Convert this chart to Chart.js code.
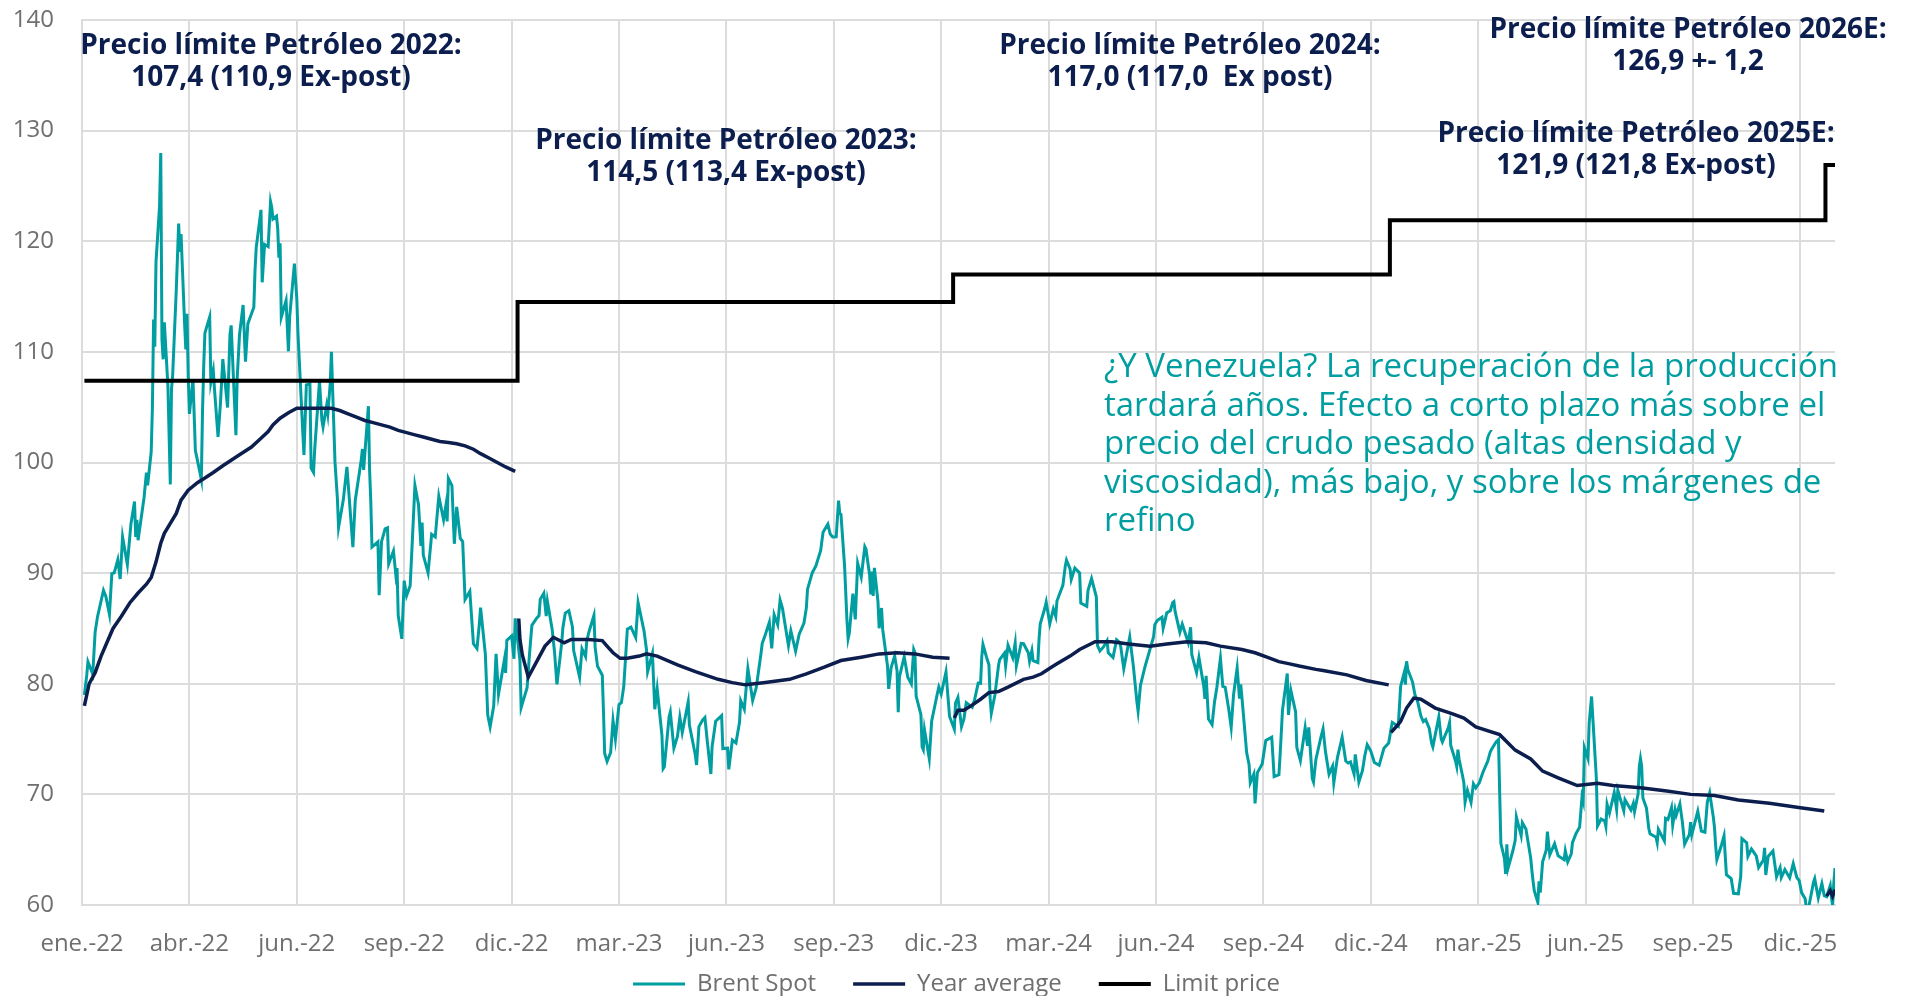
<!DOCTYPE html>
<html>
<head>
<meta charset="utf-8">
<title>Brent y precio límite</title>
<script src="https://cdn.jsdelivr.net/npm/chart.js@4.4.1/dist/chart.umd.min.js"></script>
<style>
  html, body { margin: 0; padding: 0; background: #fff; }
</style>
</head>
<body>
<canvas id="graph" width="1913" height="996"></canvas>
<script>
// Brent front month, USD/bbl: one row per month, [day, value]
const brentSpot = [
  ['2022-01', [3, 78.98], [5, 80.8], [6, 81.99], [10, 80.87], [12, 84.67], [14, 86.06], [19, 88.44], [21, 87.89], [24, 86.27], [26, 89.96], [28, 90.03], [31, 91.21]],
  ['2022-02', [2, 89.47], [4, 93.27], [8, 90.78], [11, 94.44], [14, 96.48], [15, 93.28], [16, 94.81], [17, 92.97], [22, 96.84], [24, 99.08], [25, 97.93], [28, 100.99]],
  ['2022-03', [1, 104.97], [2, 112.93], [3, 110.46], [4, 118.11], [7, 123.21], [8, 127.98], [9, 111.14], [10, 109.33], [11, 112.67], [14, 106.9], [16, 98.02], [17, 106.64], [18, 107.93], [21, 115.62], [23, 121.6], [24, 119.03], [25, 120.65], [28, 112.48], [29, 110.23], [30, 113.45], [31, 107.91]],
  ['2022-04', [1, 104.39], [4, 107.53], [6, 101.07], [7, 100.58], [11, 98.48], [12, 104.64], [13, 108.78], [14, 111.7], [18, 113.16], [19, 107.25], [21, 108.33], [22, 106.65], [25, 102.32], [27, 105.32], [29, 109.34]],
  ['2022-05', [3, 104.97], [5, 111.55], [6, 112.39], [10, 102.46], [11, 107.51], [13, 111.55], [16, 114.24], [18, 109.11], [20, 112.55], [25, 114.03], [26, 117.4], [27, 119.43], [31, 122.84]],
  ['2022-06', [1, 116.29], [3, 119.72], [6, 119.51], [8, 123.58], [9, 123.07], [10, 122.01], [13, 122.27], [14, 121.17], [15, 118.51], [16, 119.81], [17, 113.12], [21, 114.65], [23, 110.05], [24, 113.12], [28, 117.98], [30, 114.81]],
  ['2022-07', [1, 111.63], [5, 102.77], [6, 100.69], [8, 107.02], [11, 107.1], [12, 99.49], [14, 99.1], [15, 101.16], [19, 107.35], [21, 103.86], [22, 103.2], [25, 105.15], [26, 104.4], [28, 107.14], [29, 110.01]],
  ['2022-08', [1, 100.03], [3, 96.78], [4, 94.12], [8, 96.65], [11, 99.6], [12, 98.15], [16, 92.34], [18, 96.59], [23, 100.22], [24, 101.22], [25, 99.34], [29, 105.09], [30, 99.31], [31, 96.49]],
  ['2022-09', [1, 92.36], [6, 92.83], [7, 88.0], [9, 92.84], [12, 94.0], [14, 94.1], [15, 90.84], [19, 92.0], [21, 89.83], [22, 90.46], [23, 86.15], [26, 84.06], [28, 89.32], [30, 87.96]],
  ['2022-10', [3, 88.86], [5, 93.37], [7, 97.92], [10, 96.19], [12, 92.45], [13, 94.57], [14, 91.63], [18, 90.03], [21, 93.5], [24, 93.26], [27, 96.96], [31, 94.83]],
  ['2022-11', [2, 96.16], [3, 94.67], [4, 98.57], [7, 97.92], [9, 92.65], [11, 95.99], [14, 93.14], [16, 92.86], [18, 87.62], [22, 88.36], [25, 83.63], [28, 83.19], [30, 85.43]],
  ['2022-12', [1, 86.88], [5, 82.68], [7, 77.17], [9, 76.1], [12, 77.99], [14, 82.7], [16, 79.04], [21, 82.2], [22, 80.98], [23, 83.92], [27, 84.33], [29, 82.26], [30, 85.91]],
  ['2023-01', [3, 82.1], [4, 77.84], [6, 78.57], [9, 79.65], [11, 82.67], [13, 85.28], [17, 85.92], [19, 86.16], [20, 87.63], [23, 88.19], [25, 86.12], [26, 87.47], [30, 84.9]],
  ['2023-02', [1, 82.84], [3, 79.94], [7, 83.69], [8, 85.09], [10, 86.39], [13, 86.61], [16, 85.14], [17, 83.0], [22, 80.6], [24, 83.16], [27, 82.45], [28, 83.89]],
  ['2023-03', [2, 84.75], [6, 86.18], [7, 83.29], [9, 81.59], [13, 80.77], [14, 77.45], [15, 73.69], [17, 72.97], [20, 73.79], [22, 76.69], [24, 74.99], [27, 78.12], [29, 78.28], [31, 79.77]],
  ['2023-04', [3, 84.93], [6, 85.12], [10, 84.18], [12, 87.33], [14, 86.31], [17, 84.76], [19, 83.12], [20, 81.1], [24, 82.73], [26, 77.69], [28, 79.54]],
  ['2023-05', [2, 75.32], [3, 72.33], [4, 72.5], [8, 77.01], [9, 77.44], [12, 74.17], [15, 75.23], [17, 76.96], [19, 75.58], [24, 78.36], [25, 76.26], [30, 73.54], [31, 72.66]],
  ['2023-06', [2, 76.13], [5, 76.71], [7, 76.95], [9, 74.79], [12, 71.84], [13, 74.29], [16, 76.61], [21, 77.12], [22, 74.14], [26, 74.18], [27, 72.26], [30, 74.9]],
  ['2023-07', [3, 74.65], [6, 76.52], [7, 78.47], [10, 77.69], [13, 81.36], [17, 78.5], [20, 79.64], [24, 82.74], [25, 83.64], [27, 84.24], [31, 85.56]],
  ['2023-08', [2, 83.2], [4, 86.24], [7, 85.34], [9, 87.55], [11, 86.81], [16, 83.45], [18, 84.8], [22, 82.96], [25, 84.48], [29, 85.49], [31, 86.86]],
  ['2023-09', [1, 88.55], [5, 90.04], [8, 90.65], [12, 92.06], [14, 93.7], [18, 94.43], [20, 93.53], [22, 93.27], [25, 93.29], [27, 96.55], [28, 95.38], [29, 95.31]],
  ['2023-10', [2, 90.71], [4, 85.81], [5, 84.07], [6, 84.58], [9, 88.15], [11, 85.82], [13, 90.89], [16, 89.65], [19, 92.38], [20, 92.16], [23, 89.83], [24, 88.07], [25, 90.13], [26, 87.93], [27, 90.48], [30, 87.45], [31, 85.02]],
  ['2023-11', [2, 86.85], [3, 84.89], [7, 81.61], [8, 79.54], [10, 81.43], [13, 82.52], [15, 81.18], [16, 77.42], [17, 80.61], [21, 82.45], [24, 80.58], [27, 79.98], [29, 83.1], [30, 82.83]],
  ['2023-12', [1, 78.88], [5, 77.2], [6, 74.3], [7, 74.05], [8, 75.84], [12, 73.24], [14, 76.61], [19, 79.23], [20, 79.7], [22, 79.07], [26, 81.07], [28, 78.39], [29, 77.04]],
  ['2024-01', [2, 75.89], [3, 78.25], [5, 78.76], [8, 76.12], [10, 76.8], [12, 78.29], [17, 77.88], [19, 78.56], [22, 80.06], [24, 80.04], [25, 82.43], [26, 83.55], [29, 82.4], [31, 81.71]],
  ['2024-02', [1, 78.7], [2, 77.33], [5, 78.99], [8, 81.63], [9, 82.19], [13, 82.77], [14, 81.6], [16, 83.47], [20, 82.34], [22, 83.67], [23, 81.62], [27, 83.65], [29, 83.62]],
  ['2024-03', [4, 82.8], [5, 82.04], [7, 83.0], [8, 82.08], [12, 81.92], [13, 84.03], [14, 85.42], [18, 86.89], [19, 87.38], [22, 85.43], [25, 86.75], [27, 86.09], [28, 87.48]],
  ['2024-04', [2, 88.92], [4, 90.65], [5, 91.17], [8, 90.38], [9, 89.42], [12, 90.45], [16, 90.02], [17, 87.29], [22, 87.0], [23, 88.42], [26, 89.5], [30, 87.86]],
  ['2024-05', [1, 83.44], [3, 82.96], [6, 83.33], [9, 83.88], [10, 82.79], [14, 82.38], [17, 83.98], [20, 83.71], [23, 81.36], [28, 84.22], [31, 81.62]],
  ['2024-06', [3, 78.36], [4, 77.52], [6, 79.87], [10, 81.63], [13, 82.75], [17, 84.25], [18, 85.33], [20, 85.71], [24, 86.01], [25, 85.01], [28, 86.41]],
  ['2024-07', [1, 86.6], [3, 87.34], [4, 87.43], [5, 86.54], [9, 84.66], [11, 85.4], [16, 83.73], [18, 85.11], [19, 82.63], [23, 81.01], [25, 82.37], [29, 79.78], [30, 78.63], [31, 80.72]],
  ['2024-08', [2, 76.81], [5, 76.3], [7, 78.33], [9, 79.66], [12, 82.3], [14, 79.76], [16, 79.68], [19, 77.66], [21, 76.05], [23, 79.02], [26, 81.43], [28, 78.65], [29, 79.94], [30, 78.8]],
  ['2024-09', [3, 73.75], [5, 72.69], [6, 71.06], [9, 71.84], [10, 69.19], [12, 71.97], [16, 72.75], [19, 74.88], [24, 75.17], [26, 71.6], [30, 71.77]],
  ['2024-10', [1, 73.56], [3, 77.62], [7, 80.93], [8, 77.18], [10, 79.4], [14, 77.46], [15, 74.25], [18, 73.06], [22, 76.04], [24, 74.38], [25, 76.05], [28, 71.42], [29, 71.12], [31, 73.16]],
  ['2024-11', [4, 75.08], [6, 75.92], [8, 73.87], [11, 71.83], [14, 72.56], [15, 71.04], [18, 73.3], [22, 75.17], [25, 73.01], [27, 72.83], [29, 72.94]],
  ['2024-12', [2, 71.83], [3, 73.62], [6, 71.12], [9, 72.14], [11, 73.52], [13, 74.49], [16, 73.91], [19, 72.88], [23, 72.63], [27, 74.17], [31, 74.64]],
  ['2025-01', [2, 75.93], [3, 76.51], [6, 76.3], [8, 76.16], [10, 79.76], [13, 81.01], [14, 79.92], [15, 82.03], [16, 81.29], [20, 80.15], [22, 79.0], [24, 78.5], [27, 77.08], [29, 76.58], [31, 76.76]],
  ['2025-02', [3, 75.96], [5, 74.61], [6, 74.29], [11, 77.0], [13, 75.02], [14, 74.74], [19, 76.04], [20, 76.48], [21, 74.43], [25, 73.02], [26, 72.53], [27, 74.04], [28, 73.18]],
  ['2025-03', [3, 71.62], [4, 71.04], [5, 69.3], [7, 70.36], [10, 69.28], [12, 70.95], [14, 70.58], [17, 71.07], [20, 72.0], [24, 73.0], [26, 73.79], [27, 74.03], [31, 74.74]],
  ['2025-04', [2, 74.95], [3, 70.14], [4, 65.58], [7, 64.21], [8, 62.82], [9, 65.48], [10, 63.33], [14, 64.88], [16, 65.85], [17, 67.96], [21, 66.26], [22, 67.44], [25, 66.87], [29, 64.25], [30, 63.12]],
  ['2025-05', [1, 62.13], [2, 61.29], [5, 60.23], [6, 62.15], [7, 61.12], [9, 63.91], [12, 64.96], [13, 66.63], [15, 64.53], [19, 65.54], [22, 64.44], [27, 64.09], [28, 64.9], [30, 63.9]],
  ['2025-06', [2, 64.63], [3, 65.63], [6, 66.47], [9, 67.04], [11, 69.77], [12, 69.36], [13, 74.23], [16, 73.23], [17, 76.45], [19, 78.85], [20, 77.01], [23, 71.48], [24, 67.14], [27, 67.77], [30, 67.61]],
  ['2025-07', [1, 67.11], [2, 69.11], [4, 68.3], [8, 70.15], [10, 68.64], [11, 70.36], [16, 68.52], [17, 69.52], [22, 68.59], [24, 69.18], [25, 68.44], [28, 70.04], [29, 72.51], [30, 73.24], [31, 72.53]],
  ['2025-08', [1, 69.67], [4, 68.76], [6, 66.89], [7, 66.43], [12, 66.12], [13, 65.63], [14, 66.84], [19, 65.79], [20, 67.84], [22, 67.73], [25, 68.8], [26, 67.22], [28, 68.62], [29, 68.12]],
  ['2025-09', [1, 69.14], [3, 67.6], [5, 65.5], [9, 66.39], [10, 67.49], [11, 66.37], [16, 68.47], [19, 66.68], [22, 66.57], [24, 69.31], [26, 70.13], [29, 67.97], [30, 67.02]],
  ['2025-10', [1, 65.35], [2, 64.11], [6, 65.47], [8, 66.25], [10, 62.73], [14, 62.39], [16, 61.06], [20, 61.01], [22, 62.59], [23, 65.99], [27, 65.62], [28, 64.4], [31, 65.07]],
  ['2025-11', [4, 64.44], [6, 63.38], [10, 64.06], [11, 65.16], [12, 62.71], [14, 64.39], [18, 64.89], [21, 62.56], [24, 63.37], [25, 62.48], [28, 63.2]],
  ['2025-12', [2, 62.45], [5, 63.75], [8, 62.49], [10, 62.21], [12, 61.12], [15, 60.56], [16, 59.7], [18, 59.82], [22, 62.07], [23, 62.38], [26, 60.64], [29, 61.94], [31, 60.85]],
  ['2026-01', [2, 60.75], [5, 61.76], [6, 60.7], [7, 59.96], [8, 61.99], [9, 63.34]]
];

// year-to-date average, one list per year (the line breaks between years)
const yearAvg2022 = [
  ['2022-01', [3, 78.0], [7, 80.0], [12, 81.0], [17, 82.5], [21, 83.5], [27, 85.0]],
  ['2022-02', [3, 86.1], [10, 87.3], [17, 88.2], [24, 89.0], [28, 89.6]],
  ['2022-03', [4, 91.0], [8, 92.7], [11, 93.6], [16, 94.5], [21, 95.4], [25, 96.6], [31, 97.5]],
  ['2022-04', [8, 98.2], [14, 98.6], [21, 99.1], [29, 99.7]],
  ['2022-05', [6, 100.2], [13, 100.7], [23, 101.4], [31, 102.2]],
  ['2022-06', [6, 102.8], [10, 103.4], [16, 104.0], [23, 104.5], [30, 104.9]],
  ['2022-07', [8, 104.9], [15, 104.9], [22, 104.9], [29, 104.9]],
  ['2022-08', [5, 104.7], [12, 104.4], [19, 104.1], [26, 103.8]],
  ['2022-09', [2, 103.6], [9, 103.4], [16, 103.2], [23, 102.9], [30, 102.7]],
  ['2022-10', [7, 102.5], [14, 102.3], [21, 102.1], [28, 101.9]],
  ['2022-11', [4, 101.8], [11, 101.7], [18, 101.5], [25, 101.2]],
  ['2022-12', [1, 100.8], [8, 100.4], [15, 100.0], [22, 99.6], [30, 99.2]]
];
const yearAvg2023 = [
  ['2023-01', [2, 85.9], [3, 84.0], [5, 82.6], [10, 80.6], [13, 81.2], [17, 82.0], [24, 83.4], [31, 84.2]],
  ['2023-02', [9, 83.7], [15, 84.0], [22, 84.0]],
  ['2023-03', [1, 84.0], [13, 83.9], [17, 83.4], [22, 82.8], [28, 82.3]],
  ['2023-04', [3, 82.3], [13, 82.5], [19, 82.7], [28, 82.5]],
  ['2023-05', [15, 81.7], [30, 81.1]],
  ['2023-06', [18, 80.4], [30, 80.1]],
  ['2023-07', [11, 79.9], [26, 80.1]],
  ['2023-08', [17, 80.4], [31, 80.9]],
  ['2023-09', [15, 81.5], [29, 82.1]],
  ['2023-10', [16, 82.4], [31, 82.7]],
  ['2023-11', [15, 82.8], [30, 82.7]],
  ['2023-12', [15, 82.4], [29, 82.3]]
];
const yearAvg2024 = [
  ['2024-01', [2, 76.9], [5, 77.6], [10, 77.6], [16, 78.0], [24, 78.6], [31, 79.2]],
  ['2024-02', [8, 79.3], [16, 79.7], [29, 80.4]],
  ['2024-03', [8, 80.6], [15, 80.9], [22, 81.4], [28, 81.8]],
  ['2024-04', [8, 82.5], [16, 83.1], [29, 83.8]],
  ['2024-05', [13, 83.8], [27, 83.6]],
  ['2024-06', [14, 83.4], [28, 83.6]],
  ['2024-07', [15, 83.8], [31, 83.7]],
  ['2024-08', [12, 83.4], [30, 83.1]],
  ['2024-09', [10, 82.8], [20, 82.4], [30, 82.0]],
  ['2024-10', [9, 81.8], [17, 81.6], [31, 81.3]],
  ['2024-11', [6, 81.2], [26, 80.8]],
  ['2024-12', [12, 80.3], [31, 79.9]]
];
const yearAvg2025 = [
  ['2025-01', [2, 75.6], [7, 76.2], [10, 76.6], [15, 77.8], [21, 78.7], [27, 78.6]],
  ['2025-02', [8, 77.8], [22, 77.3]],
  ['2025-03', [4, 76.9], [14, 76.1]],
  ['2025-04', [3, 75.4], [16, 74.0], [29, 73.2]],
  ['2025-05', [9, 72.1], [22, 71.5]],
  ['2025-06', [7, 70.8], [24, 71.0]],
  ['2025-07', [7, 70.8], [30, 70.6]],
  ['2025-08', [21, 70.3]],
  ['2025-09', [10, 70.0], [30, 69.9]],
  ['2025-10', [20, 69.5]],
  ['2025-11', [15, 69.2]],
  ['2025-12', [11, 68.8], [31, 68.5]]
];
const yearAvg2026 = [
  ['2026-01', [2, 60.8], [5, 61.3], [7, 60.8], [9, 61.4]]
];

// limit price per year
const limitYears = [2022, 2023, 2024, 2025, 2026];
const limitValues = [107.4, 114.5, 117.0, 121.9, 126.9];

const xTickLabels = ['ene.-22', 'abr.-22', 'jun.-22', 'sep.-22', 'dic.-22', 'mar.-23', 'jun.-23', 'sep.-23', 'dic.-23',
  'mar.-24', 'jun.-24', 'sep.-24', 'dic.-24', 'mar.-25', 'jun.-25', 'sep.-25', 'dic.-25'];
const tickStepDays = 90;
const firstDate = '2022-01-01';
const lastDate = '2026-01-09';

const limitNotes = [
  ['Precio límite Petróleo 2022:', '107,4 (110,9 Ex-post)'],
  ['Precio límite Petróleo 2023:', '114,5 (113,4 Ex-post)'],
  ['Precio límite Petróleo 2024:', '117,0 (117,0  Ex post)'],
  ['Precio límite Petróleo 2026E:', '126,9 +- 1,2'],
  ['Precio límite Petróleo 2025E:', '121,9 (121,8 Ex-post)']
];
const venezuelaNote = [
  '¿Y Venezuela? La recuperación de la producción',
  'tardará años. Efecto a corto plazo más sobre el',
  'precio del crudo pesado (altas densidad y',
  'viscosidad), más bajo, y sobre los márgenes de',
  'refino'
];

// styling
const teal = '#009ea0';
const navy = '#0c1e4e';
const grey = '#6f6f6f';
const gridGrey = '#dcdcdc';
// where the note texts sit (pixels)
const notePos = [{x: 271, y: 46}, {x: 726, y: 141}, {x: 1190, y: 46}, {x: 1688, y: 30}, {x: 1636, y: 134}];
const venezuelaPos = {x: 1104, y: 368, lineGap: 38.4};

// helpers
function dayOf(s) {
  const ms = Date.UTC(+s.slice(0, 4), +s.slice(5, 7) - 1, +s.slice(8, 10));
  return (ms - Date.UTC(2022, 0, 1)) / 86400000;
}
function toPoints(rows) {
  const out = [];
  rows.forEach(row => {
    const month = row[0];
    row.slice(1).forEach(([d, v]) => {
      out.push({ x: dayOf(month + '-' + String(d).padStart(2, '0')), y: v });
    });
  });
  return out;
}

const yearAvgPoints = [];
[yearAvg2022, yearAvg2023, yearAvg2024, yearAvg2025, yearAvg2026].forEach((rows, i) => {
  const pts = toPoints(rows);
  if (i > 0) yearAvgPoints.push({ x: pts[0].x - 0.5, y: null }); // break between years
  yearAvgPoints.push(...pts);
});

const xMax = dayOf(lastDate);
const limitPoints = limitYears.map((yr, i) => ({ x: Math.max(dayOf(yr + '-01-01'), 2), y: limitValues[i] }));
limitPoints.push({ x: xMax, y: limitValues[limitValues.length - 1] });

const notesPlugin = {
  id: 'notes',
  afterDraw(chart) {
    const ctx = chart.ctx;
    ctx.save();
    ctx.textBaseline = 'middle';
    ctx.textAlign = 'center';
    ctx.fillStyle = navy;
    ctx.font = "bold 28px 'Open Sans'";
    limitNotes.forEach((lines, i) => {
      lines.forEach((t, j) => ctx.fillText(t, notePos[i].x, notePos[i].y + j * 32.5));
    });
    ctx.textAlign = 'left';
    ctx.fillStyle = teal;
    ctx.font = "33px 'Open Sans'";
    venezuelaNote.forEach((t, j) => ctx.fillText(t, venezuelaPos.x, venezuelaPos.y + j * venezuelaPos.lineGap));
    ctx.restore();
  }
};

Chart.defaults.font.family = "'Open Sans', sans-serif";
Chart.defaults.font.size = 24;
Chart.defaults.color = grey;

var ctx = document.getElementById('graph').getContext('2d');
var myChart = new Chart(ctx, {
  type: 'line',
  data: {
    datasets: [
      { label: 'Brent Spot', data: toPoints(brentSpot), yAxisID: 'y', borderColor: teal, backgroundColor: teal, borderWidth: 3, order: 3 },
      { label: 'Year average', data: yearAvgPoints, yAxisID: 'y', borderColor: navy, backgroundColor: navy, borderWidth: 3.5, order: 2 },
      { label: 'Limit price', data: limitPoints, yAxisID: 'y', borderColor: '#000', backgroundColor: '#000', borderWidth: 4, stepped: true, order: 1 }
    ]
  },
  options: {
    responsive: false,
    animation: false,
    devicePixelRatio: 1,
    elements: {
      point: { radius: 0 },
      line: { tension: 0 }
    },
    layout: { padding: { top: 20, right: 0, bottom: -10, left: 0 } },
    scales: {
      x: {
        type: 'linear',
        min: dayOf(firstDate),
        max: xMax,
        afterBuildTicks: (axis) => {
          axis.ticks = xTickLabels.map((label, i) => ({ value: i * tickStepDays }));
        },
        afterFit: (axis) => { axis.height = 55; },
        ticks: {
          callback: (value, index) => xTickLabels[index],
          maxRotation: 0,
          autoSkip: false,
          padding: 25,
          color: grey
        },
        grid: { color: gridGrey, lineWidth: 2, drawTicks: false },
        border: { color: gridGrey, width: 2 }
      },
      y: {
        min: 60,
        max: 140,
        afterFit: (axis) => { axis.width = 82; },
        ticks: { stepSize: 10, padding: 0, color: grey },
        // invisible tick marks keep the labels away from the axis without padding the top
        grid: { color: gridGrey, lineWidth: 2, drawTicks: true, tickLength: 28, tickColor: 'rgba(0,0,0,0)' },
        border: { color: gridGrey, width: 2 }
      },
      // empty right-hand axis: keeps room on the right while the legend stays centred on the page
      yRight: {
        position: 'right',
        afterFit: (axis) => { axis.width = 78; },
        ticks: { display: false },
        grid: { display: false, drawTicks: false },
        border: { display: false }
      }
    },
    plugins: {
      legend: {
        position: 'bottom',
        labels: {
          usePointStyle: true,
          pointStyle: 'line',
          pointStyleWidth: 52,
          padding: 12,
          color: grey,
          generateLabels: (chart) => {
            const items = Chart.defaults.plugins.legend.labels.generateLabels(chart);
            // a bit of extra room after the first two entries
            return items.map(item => Object.assign(item, {
              text: item.datasetIndex < 2 ? item.text + '\u00a0\u00a0\u00a0\u00a0' : item.text
            }));
          },
          sort: (a, b) => a.datasetIndex - b.datasetIndex
        }
      },
      tooltip: { enabled: false }
    }
  },
  plugins: [notesPlugin]
});
</script>
</body>
</html>
